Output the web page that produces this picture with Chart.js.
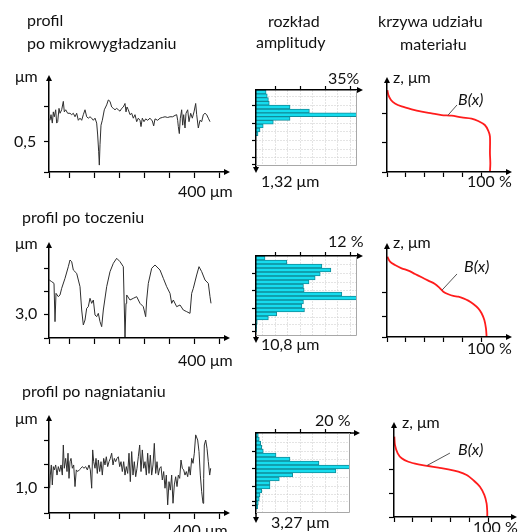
<!DOCTYPE html>
<html>
<head>
<meta charset="utf-8">
<script src="https://cdn.jsdelivr.net/npm/chart.js@4.4.1/dist/chart.umd.min.js"></script>
<style>
  body { margin: 0; background: #fff; }
  #wrap { position: relative; width: 520px; height: 532px; overflow: hidden; font-family: Lato, 'Open Sans', sans-serif; color: #111; }
  #wrap canvas { position: absolute; left: 0; top: 0; }
  .t { position: absolute; font-size: 16px; line-height: 17px; white-space: nowrap; }
  .i { font-style: italic; }
</style>
</head>
<body>
<div id="wrap">
  <div class="t" style="left:27px;top:11px">profil</div>
  <div class="t" style="left:27px;top:34px">po mikrowygładzaniu</div>
  <div class="t" style="left:268px;top:12px">rozkład</div>
  <div class="t" style="left:256px;top:33px">amplitudy</div>
  <div class="t" style="left:378px;top:12px">krzywa udziału</div>
  <div class="t" style="left:400px;top:35px">materiału</div>
  <div class="t" style="left:15px;top:67px">μm</div>
  <div class="t" style="left:14px;top:132px">0,5</div>
  <div class="t" style="left:178px;top:182px">400 μm</div>
  <div class="t" style="left:328px;top:69px">35%</div>
  <div class="t" style="left:261px;top:172px">1,32 μm</div>
  <div class="t" style="left:393px;top:68px">z, μm</div>
  <div class="t i" style="left:458px;top:90px">B(x)</div>
  <div class="t" style="left:467px;top:172px">100 %</div>

  <div class="t" style="left:22px;top:208px">profil po toczeniu</div>
  <div class="t" style="left:15px;top:234px">μm</div>
  <div class="t" style="left:15px;top:304px">3,0</div>
  <div class="t" style="left:178px;top:351px">400 μm</div>
  <div class="t" style="left:328px;top:232px">12 %</div>
  <div class="t" style="left:261px;top:335px">10,8 μm</div>
  <div class="t" style="left:393px;top:233px">z, μm</div>
  <div class="t i" style="left:464px;top:257px">B(x)</div>
  <div class="t" style="left:467px;top:339px">100 %</div>

  <div class="t" style="left:22px;top:382px">profil po nagniataniu</div>
  <div class="t" style="left:15px;top:409px">μm</div>
  <div class="t" style="left:15px;top:478px">1,0</div>
  <div class="t" style="left:173px;top:521px">400 μm</div>
  <div class="t" style="left:315px;top:411px">20 %</div>
  <div class="t" style="left:271px;top:513px">3,27 μm</div>
  <div class="t" style="left:402px;top:413px">z, μm</div>
  <div class="t i" style="left:458px;top:440px">B(x)</div>
  <div class="t" style="left:473px;top:518px">100 %</div>
</div>
<script>
// profile: [x µm, z µm]
const profilMikro = [
  [2.5,0.81],[5,0.89],[8.3,0.77],[10.8,0.93],[13.3,0.86],[16.7,0.96],[19.2,0.77],[21.7,0.79],[25,0.98],[27.5,0.91],
  [31.7,0.96],[35.8,1.08],[38.3,0.93],[41.7,0.96],[46.7,0.91],[52.5,0.91],[56.7,0.89],[60.8,0.91],[65,0.86],[69.2,0.91],
  [73.3,0.81],[77.5,0.84],[81.7,0.81],[85.8,0.89],[90,0.96],[94.2,0.86],[98.3,0.84],[102.5,0.86],[106.7,0.84],[110.8,0.81],
  [115,0.84],[119.2,0.77],[121.7,0.6],[124.2,0.36],[125.8,0.17],[127.5,0.46],[130,0.74],[133.3,0.81],[138.3,0.96],[144.2,1.03],
  [148.3,1.1],[152.5,1.08],[156.7,1.0],[160.8,0.98],[165,0.96],[169.2,0.98],[173.3,0.96],[177.5,0.94],[181.7,0.98],[185.8,1.0],
  [190,1.05],[192.5,0.93],[195,1.0],[198.3,0.96],[202.5,0.89],[206.7,0.91],[210.8,0.84],[215,0.89],[219.2,0.79],[223.3,0.84],
  [227.5,0.81],[230,0.72],[233.3,0.84],[237.5,0.79],[241.7,0.83],[246.7,0.81],[252.5,0.84],[258.3,0.8],[261.7,0.73],[265,0.83],
  [271.7,0.81],[277.5,0.84],[283.3,0.85],[290,0.86],[296.7,0.85],[302.5,0.86],[309.2,0.86],[315,0.88],[319.2,0.89],[321.7,0.81],
  [323.3,0.72],[325.8,0.62],[328.3,0.84],[331.7,0.96],[334.2,0.74],[336.7,0.89],[340,0.7],[342.5,0.91],[346.7,0.96],[350,0.79],
  [354.2,0.91],[358.3,0.84],[362.5,0.93],[366.7,1.05],[369.2,0.89],[373.3,0.7],[377.5,0.81],[381.7,0.79],[385.8,0.89],[390,0.91],
  [394.2,0.89],[398.3,0.84],[402.5,0.79]
];
const profilToczenie = [
  [0.8,7.48],[6.7,7.27],[12.5,7.05],[15,2.11],[17.5,5.76],[23.3,5.33],[27.5,5.55],[31.7,6.41],[40,7.7],[48.3,9.2],
  [52.5,10.06],[56.7,9.85],[60.8,8.77],[69.2,8.34],[77.5,6.62],[81.7,3.61],[85.8,1.68],[90,2.32],[94.2,3.83],[98.3,4.04],
  [102.5,5.12],[106.7,4.47],[110.8,4.9],[115,2.97],[119.2,2.75],[123.3,3.18],[127.5,2.11],[131.7,1.46],[135.8,3.61],[144.2,6.62],
  [152.5,8.56],[160.8,9.63],[169.2,10.28],[177.5,9.85],[185.8,9.2],[190,0.1],[192.5,4.47],[194.2,5.55],[202.5,4.9],[210.8,5.12],
  [219.2,5.33],[227.5,4.47],[235.8,4.04],[241.7,2.75],[244.2,4.9],[248.3,7.05],[256.7,8.99],[265,9.42],[277.5,8.77],[285.8,7.7],
  [294.2,6.62],[302.5,5.76],[306.7,4.47],[310.8,4.9],[319.2,4.04],[327.5,4.26],[335.8,3.61],[344.2,3.4],[352.5,3.18],[356.7,5.76],
  [360.8,6.41],[369.2,8.13],[375,9.2],[381.7,8.56],[390,7.48],[398.3,7.05],[402.5,5.33],[405,4.47]
];
const profilNagniatanie = [
  [1.7,0.99],[3.3,1.55],[5.8,1.98],[8.3,1.13],[10.8,1.91],[13.3,1.77],[16.7,1.98],[20,1.55],[23.3,1.91],[26.7,1.7],
  [30,1.98],[33.3,1.55],[35.8,2.83],[38.3,1.84],[41.7,2.26],[45,1.7],[47.5,2.48],[50,1.41],[52.5,2.12],[55,2.26],
  [58.3,1.84],[61.7,1.98],[65,1.06],[68.3,1.77],[71.7,1.7],[75.8,1.77],[80,1.84],[83.3,1.91],[87.5,1.84],[91.7,1.91],
  [95.8,1.77],[100,1.98],[103.3,1.77],[106.7,0.99],[109.2,2.62],[111.7,2.12],[115,1.84],[117.5,2.26],[120.8,1.62],[123.3,2.19],
  [126.7,1.7],[130,2.12],[133.3,1.55],[136.7,2.26],[140,1.98],[143.3,2.33],[146.7,1.91],[150,2.12],[153.3,2.26],[156.7,2.48],
  [160,1.98],[163.3,2.26],[166.7,2.12],[170,2.26],[173.3,2.33],[176.7,1.91],[180,2.12],[183.3,1.7],[186.7,2.12],[190,1.55],
  [193.3,1.91],[196.7,1.62],[200,2.48],[203.3,1.27],[206.7,2.55],[210,1.55],[213.3,2.12],[216.7,1.48],[220,1.84],[223.3,2.33],
  [226.7,2.83],[230,1.7],[233.3,2.62],[236.7,1.84],[240,2.12],[243.3,1.55],[246.7,2.48],[250,1.62],[253.3,2.4],[256.7,1.55],
  [260,1.98],[263.3,2.9],[266.7,1.62],[270,2.12],[273.3,1.55],[276.7,1.84],[280,1.91],[283.3,1.34],[286.7,1.7],[290,0.99],
  [293.3,1.55],[296.7,0.28],[300,1.27],[303.3,0.91],[306.7,1.55],[310,0.35],[313.3,1.13],[316.7,1.48],[320,1.06],[323.3,1.55],
  [326.7,1.41],[330,2.19],[333.3,1.84],[336.7,1.77],[340,1.55],[343.3,1.7],[346.7,1.48],[350,1.91],[353.3,1.55],[356.7,2.26],
  [360,2.05],[363.3,2.48],[366.7,3.26],[371.7,3.04],[375,2.55],[378.3,1.55],[381.7,0.84],[385,0.35],[386.7,1.41],[388.3,2.83],
  [391.7,3.04],[395,2.69],[398.3,2.12],[401.7,1.55],[404.2,1.84]
];

// amplitude distribution, % per bin (20 bins, top to bottom)
const rozkladMikro = [3.5, 3.9, 4.3, 4.6, 11.8, 18.5, 35, 11.8, 6.0, 2.5, 1.4, 0.7, 0, 0, 0, 0, 0, 0, 0, 0];
const rozkladToczenie = [1.07, 3.66, 7.83, 8.9, 7.63, 7.03, 6.3, 5.64, 5.72, 10.2, 12, 5.64, 5.45, 5.76, 2.47, 1.47, 0.15, 0.08, 0.06, 0];
const rozkladNagniatanie = [0.49, 0.7, 1.0, 1.21, 1.55, 4.26, 7.23, 13.4, 20, 17.0, 7.8, 4.96, 2.98, 2.98, 1.21, 0.85, 0.7, 0.49, 0.36, 0];

// material ratio curve B(x): [x %, z µm]
const krzywaMikro = [
  [0.4,1.41],[1.4,1.33],[4.2,1.24],[8.4,1.18],[15.4,1.13],[26,1.08],[36.5,1.04],[47,1.01],[57.5,0.98],[68,0.97],
  [78.6,0.94],[89,0.92],[96,0.88],[103,0.81],[106.7,0.71],[108.4,0.61],[108.4,0.32],[108.8,0.15],[108.4,0]
];
const krzywaToczenie = [
  [0.4,10.36],[3.2,9.72],[8.4,9.29],[15.4,8.86],[22.5,8.56],[29.5,8.13],[36.5,7.7],[43.5,7.27],[50.5,6.84],[55.8,6.28],
  [59.3,5.85],[64.6,5.51],[69.8,5.29],[75.1,5.2],[80.4,4.99],[85.6,4.69],[90.9,4.26],[96.1,3.7],[99.6,3.06],[102.5,2.19],
  [104.2,1.12],[104.9,0]
];
const krzywaNagniatanie = [
  [0.35,3.42],[1.05,3.06],[3.9,2.71],[8.1,2.5],[15.1,2.35],[25.6,2.24],[36.1,2.17],[46.7,2.1],[57.2,2.03],[67.7,1.93],
  [76.5,1.79],[83.5,1.57],[90.5,1.29],[95.1,0.94],[97.5,0.58],[98.2,0.23],[98.2,0]
];
// B(x) leader: [label end], [point on curve]
const leaderMikro = [[73.7, 1.155], [64, 0.975]];
const leaderToczenie = [[73.7, 8.13], [57.9, 6.04]];
const leaderNagniatanie = [[58.9, 2.72], [34.7, 2.19]];

// tick values
const profilXTicks = [0, 50, 112.5, 175, 237.5, 300, 362.5, 425];
const krzywaXTicks = [0, 20, 40, 60, 80, 100];

Chart.defaults.animation = false;
Chart.defaults.events = [];
Chart.defaults.plugins.legend.display = false;
Chart.defaults.plugins.tooltip.enabled = false;

function arrow(ctx, x1, y1, x2, y2) {
  const head = 6, half = 3;
  const dx = x2 - x1, dy = y2 - y1, len = Math.hypot(dx, dy);
  const ux = dx / len, uy = dy / len;
  const bx = x2 - ux * head, by = y2 - uy * head;
  if (len > head) { ctx.beginPath(); ctx.moveTo(x1, y1); ctx.lineTo(bx, by); ctx.stroke(); }
  ctx.beginPath();
  ctx.moveTo(x2, y2);
  ctx.lineTo(bx - uy * half, by + ux * half);
  ctx.lineTo(bx + uy * half, by - ux * half);
  ctx.closePath();
  ctx.fill();
}

// axis arrows, histogram frame, B(x) leader
const deco = {
  id: 'deco',
  afterDraw(chart, args, o) {
    if (!o || !o.kind) return;
    const { ctx, chartArea: a } = chart;
    ctx.save();
    if (o.kind === 'hist') {
      ctx.strokeStyle = '#a8a8a8';
      ctx.lineWidth = 1;
      ctx.beginPath();
      ctx.moveTo(a.right - 0.5, a.top);
      ctx.lineTo(a.right - 0.5, a.bottom - 0.5);
      ctx.lineTo(a.left, a.bottom - 0.5);
      ctx.stroke();
    }
    ctx.strokeStyle = '#000';
    ctx.fillStyle = '#000';
    ctx.lineWidth = 1.5;
    if (o.kind === 'hist') {
      arrow(ctx, a.right, a.top, a.right + o.xExt, a.top);
      arrow(ctx, a.left, a.bottom, a.left, a.bottom + o.yExt);
    } else {
      arrow(ctx, a.right, a.bottom, a.right + 6, a.bottom);
      arrow(ctx, a.left, a.top, a.left, a.top - 6);
    }
    if (o.leader) {
      const xs = chart.scales.x, ys = chart.scales.y;
      ctx.strokeStyle = '#555';
      ctx.lineWidth = 1;
      ctx.beginPath();
      ctx.moveTo(xs.getPixelForValue(o.leader[0][0]), ys.getPixelForValue(o.leader[0][1]));
      ctx.lineTo(xs.getPixelForValue(o.leader[1][0]), ys.getPixelForValue(o.leader[1][1]));
      ctx.stroke();
    }
    ctx.restore();
  }
};
Chart.register(deco);

const wrap = document.getElementById('wrap');
function newCanvas() {
  const c = document.createElement('canvas');
  c.width = 520; c.height = 532;
  wrap.insertBefore(c, wrap.firstChild);
  return c;
}
function pad(g) {
  return { left: g.l, top: g.t, right: 520 - g.r, bottom: 532 - g.b };
}

function axis(o) {
  return {
    type: 'linear',
    position: o.position,
    min: o.min, max: o.max,
    reverse: !!o.reverse,
    bounds: 'data',
    afterFit: s => { if (s.isHorizontal()) s.height = 0; else s.width = 0; },
    afterBuildTicks: s => { s.ticks = o.ticks.map(t => typeof t === 'number' ? { value: t } : t); },
    ticks: { display: false },
    grid: {
      drawOnChartArea: !!o.grid,
      color: c => (c.tick && c.tick.g) ? '#c8c8c8' : 'rgba(0,0,0,0)',
      lineWidth: 1,
      tickLength: o.tickLength || 5,
      tickWidth: 1.2,
      tickColor: c => (c.tick && c.tick.g && !c.tick.m) ? 'rgba(0,0,0,0)' : '#000'
    },
    border: { display: true, color: '#000', width: 1.5, dash: o.grid ? [1, 2] : [], z: 1 }
  };
}

// grid/tick marks placed at pixel offsets along a decorative axis
function offTicks(offsets, majors, size, max) {
  return offsets.map(off => ({ value: off / size * max, g: true, m: majors.includes(off) }));
}

function profil(g, data, yMin, yMax, yTicks) {
  new Chart(newCanvas(), {
    type: 'line',
    data: { datasets: [{ data: data.map(([x, y]) => ({ x, y })), borderColor: '#2e2e2e', borderWidth: 1, pointRadius: 0, tension: 0 }] },
    options: {
      responsive: false, devicePixelRatio: 1,
      layout: { padding: pad(g) },
      scales: {
        x: axis({ position: 'bottom', min: 0, max: (g.r - g.l) * 2.5, ticks: profilXTicks, tickLength: 6 }),
        y: axis({ position: 'left', min: yMin, max: yMax, ticks: yTicks, tickLength: 5 })
      },
      plugins: { deco: { kind: 'axes' } }
    }
  });
}

function rozklad(g, values, xMax, yMax, xGrid, xMaj, yGrid, yMaj, xExt, yExt) {
  const w = g.r - g.l, h = g.b - g.t;
  new Chart(newCanvas(), {
    type: 'bar',
    data: {
      labels: values.map((v, i) => i + 1),
      datasets: [{ data: values, xAxisID: 'x', yAxisID: 'y', backgroundColor: '#16dcee', borderColor: '#108d9a', borderWidth: 1, barPercentage: 1, categoryPercentage: 1 }]
    },
    options: {
      indexAxis: 'y',
      responsive: false, devicePixelRatio: 1,
      layout: { padding: pad(g) },
      scales: {
        x: axis({ position: 'top', min: 0, max: xMax, grid: true, ticks: offTicks(xGrid, xMaj, w, xMax), tickLength: 4 }),
        y: { type: 'category', display: false, offset: true },
        yg: axis({ position: 'left', min: 0, max: yMax, reverse: true, grid: true, ticks: offTicks(yGrid, yMaj, h, yMax), tickLength: 4 })
      },
      plugins: { deco: { kind: 'hist', xExt, yExt } }
    }
  });
}

function krzywa(g, data, xMax, yMax, yTicks, leader) {
  new Chart(newCanvas(), {
    type: 'line',
    data: { datasets: [{ data: data.map(([x, y]) => ({ x, y })), borderColor: '#ff1c1c', borderWidth: 1.8, pointRadius: 0, tension: 0.3 }] },
    options: {
      responsive: false, devicePixelRatio: 1,
      layout: { padding: pad(g) },
      scales: {
        x: axis({ position: 'bottom', min: 0, max: xMax, ticks: krzywaXTicks, tickLength: 5 }),
        y: axis({ position: 'left', min: 0, max: yMax, ticks: yTicks, tickLength: 5 })
      },
      plugins: { deco: { kind: 'axes', leader } }
    }
  });
}

const histXGrid = [6.5, 19, 31.5, 44, 56.5, 69, 81.5, 94];
const histXMaj = [19, 44, 69, 94];

// row 1
profil({ l: 49, r: 224, t: 81, b: 172 }, profilMikro, 0.0714, 1.371, [0.0714, 0.5, 1.0]);
rozklad({ l: 256, r: 357, t: 90, b: 166 }, rozkladMikro, 35, 1.32, histXGrid, histXMaj,
  [7.5, 17.5, 27.5, 37.5, 47.5, 57.5, 67.5, 76], [17.5, 37.5, 57.5, 76], 6, 7);
krzywa({ l: 387, r: 506, t: 83, b: 172 }, krzywaMikro, 125.3, 1.534, [0, 0.5, 1.0], leaderMikro);

// row 2
profil({ l: 49, r: 224, t: 248, b: 338 }, profilToczenie, 0, 11.61, [0, 3, 6, 9]);
rozklad({ l: 256, r: 357, t: 256, b: 336 }, rozkladToczenie, 12, 10.8, histXGrid, histXMaj,
  [9, 19, 29, 39, 49, 59, 69, 77], [19, 39, 59, 77], 6, 7);
krzywa({ l: 387, r: 506, t: 249, b: 337 }, krzywaToczenie, 125.3, 11.35, [0, 2.7, 5.8], leaderToczenie);

// row 3
profil({ l: 49, r: 224, t: 421, b: 513 }, profilNagniatanie, -0.064, 3.851, [-0.064, 1, 2, 3]);
rozklad({ l: 256, r: 350, t: 433, b: 513 }, rozkladNagniatanie, 20, 3.27, [6.5, 19, 31.5, 44, 56.5, 69, 81.5], [19, 44, 69],
  [10, 20, 30, 40, 50, 60, 70, 75], [20, 40, 60, 75], 10, 10);
krzywa({ l: 394, r: 511, t: 428, b: 517 }, krzywaNagniatanie, 123.2, 3.787, [0, 1, 2], leaderNagniatanie);
</script>
</body>
</html>
